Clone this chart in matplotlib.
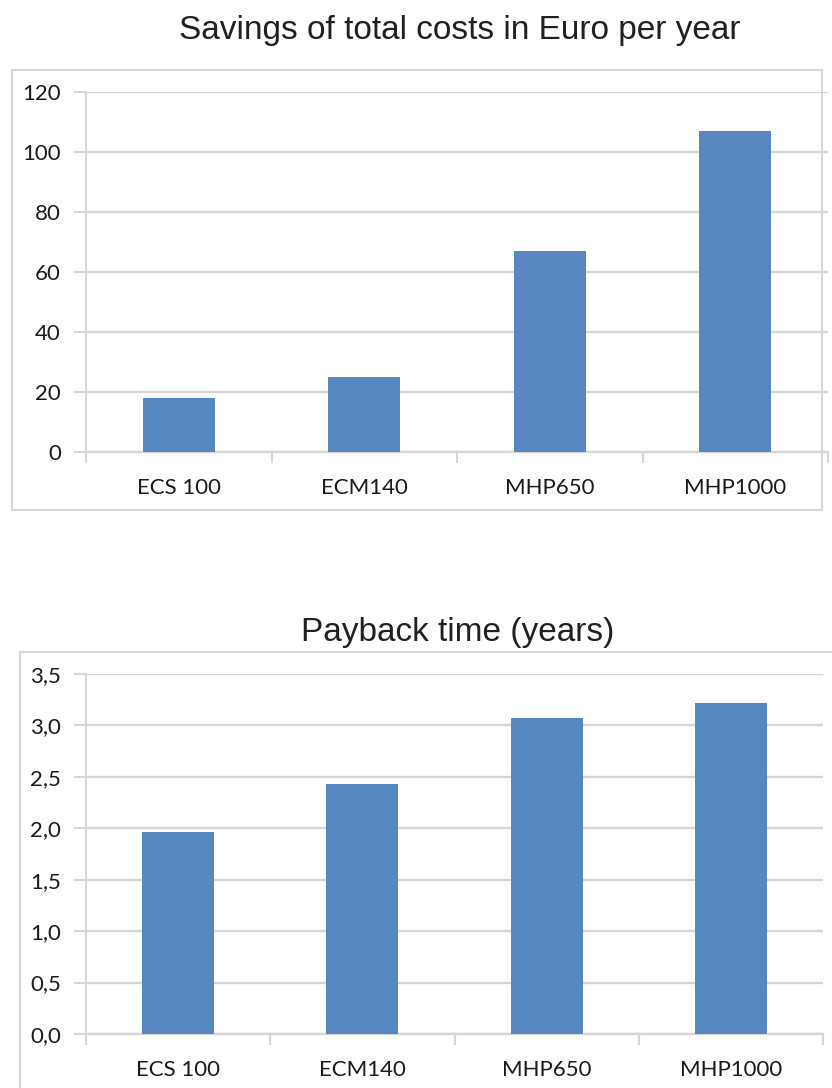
import matplotlib
matplotlib.use("Agg")
import matplotlib.pyplot as plt
from matplotlib.patches import Rectangle
from matplotlib.ticker import FixedLocator, FuncFormatter

# Data
models = ["ECS 100", "ECM140", "MHP650", "MHP1000"]
savings_eur = [18, 25, 67, 107]
payback_years = [1.96, 2.43, 3.07, 3.22]

savings_title = "Savings of total costs in Euro per year"
payback_title = "Payback time (years)"

W, H = 832, 1088
BAR_COLOR = "#5687c1"
GRID = "#d6d6d6"
TICK_FONT = "Lato"
TITLE_FONT = "Liberation Sans"

fig = plt.figure(figsize=(W / 100, H / 100), dpi=100)


def fx(px):
    return px / W


def fy(py):
    return 1 - py / H


def frame(x0, y0, x1, y1):
    fig.patches.append(Rectangle((fx(x0), fy(y1)), fx(x1) - fx(x0), fy(y0) - fy(y1),
                                 transform=fig.transFigure, fill=False,
                                 edgecolor=GRID, linewidth=1.5, zorder=0))


def bar_panel(rect, values, ymax, ystep, fmt):
    ax = fig.add_axes(rect)
    x = list(range(len(models)))
    ax.bar(x, values, width=0.39, color=BAR_COLOR, zorder=3)
    ax.set_xlim(-0.5, len(models) - 0.5)
    ax.set_ylim(0, ymax)
    yt = [i * ystep for i in range(int(round(ymax / ystep)) + 1)]
    ax.set_yticks(yt)
    ax.yaxis.set_major_formatter(FuncFormatter(fmt))
    ax.set_xticks(x)
    ax.set_xticklabels(models)
    ax.xaxis.set_minor_locator(FixedLocator([i - 0.5 for i in range(len(models) + 1)]))
    ax.tick_params(axis="x", which="major", length=0, pad=19, labelsize=16)
    ax.tick_params(axis="x", which="minor", length=8, width=1.5, color=GRID)
    ax.tick_params(axis="y", length=9, width=1.5, color=GRID, pad=9, labelsize=16)
    for lab in ax.get_xticklabels() + ax.get_yticklabels():
        lab.set_fontfamily(TICK_FONT)
        lab.set_color("#1a1a1a")
    ax.grid(axis="y", color=GRID, linewidth=1.7, zorder=0)
    for s in ["top", "right"]:
        ax.spines[s].set_visible(False)
    ax.spines["left"].set_color(GRID)
    ax.spines["left"].set_linewidth(1.5)
    ax.spines["bottom"].set_color(GRID)
    ax.spines["bottom"].set_linewidth(1.7)
    ax.set_facecolor("none")
    return ax


# Upper panel: yearly savings
frame(12, 70, 822, 510)
bar_panel([fx(86), fy(452), fx(828) - fx(86), fy(92) - fy(452)],
          savings_eur, 120, 20, lambda v, p: f"{int(v)}")
fig.text(fx(460), fy(30), savings_title, ha="center", va="center",
         fontsize=24, family=TITLE_FONT, color="#231f20")

# Lower panel: payback time
frame(20, 652, 860, 1120)
bar_panel([fx(86), fy(1034), fx(823) - fx(86), fy(674) - fy(1034)],
          payback_years, 3.5, 0.5, lambda v, p: f"{v:.1f}".replace(".", ","))
fig.text(fx(458), fy(633), payback_title, ha="center", va="center",
         fontsize=24, family=TITLE_FONT, color="#231f20")

fig.savefig("out.png", dpi=100)
